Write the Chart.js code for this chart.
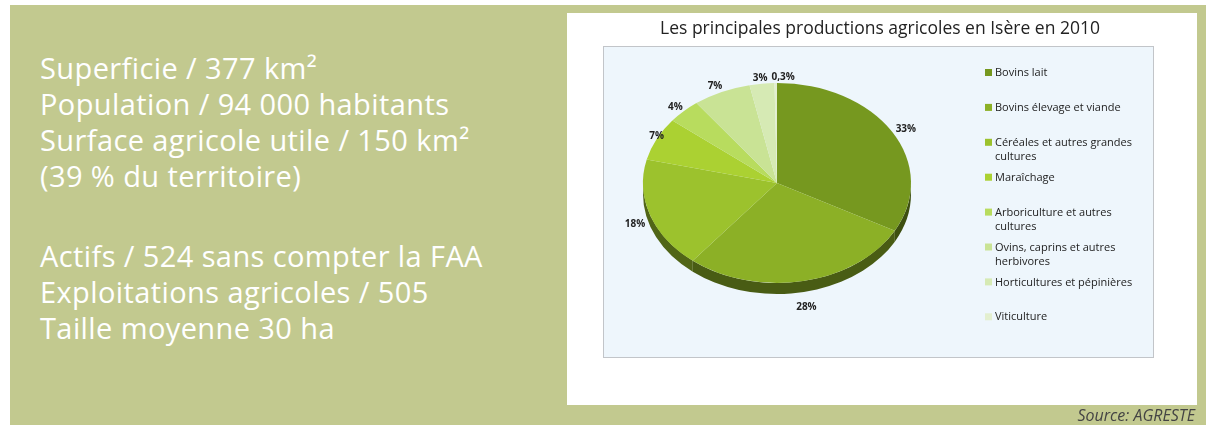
<!DOCTYPE html>
<html>
<head>
<meta charset="utf-8">
<title>Productions agricoles en Isère</title>
<script src="https://cdn.jsdelivr.net/npm/chart.js@4.4.0/dist/chart.umd.min.js"></script>
<style>
body{margin:0;background:#fff;width:1206px;height:425px;overflow:hidden;position:relative;font-family:"Open Sans",sans-serif}
#panel{position:absolute;left:10px;top:5px;width:1196px;height:420px;background:#c2c98f}
#facts{position:absolute;left:40px;top:50px;color:#fff;font-size:29px;line-height:36px;white-space:nowrap;letter-spacing:0.4px}
#facts p{margin:0 0 44px 0}
#box{position:absolute;left:567px;top:13px;width:630px;height:392px;background:#fff}
#source{position:absolute;right:11px;top:405px;font-style:italic;color:#444;font-size:16px;line-height:20px}
</style>
</head>
<body>
<div id="panel"></div>
<div id="facts">
<p>Superficie / 377 km²<br>Population / 94 000 habitants<br>Surface agricole utile / 150 km²<br>(39 % du territoire)</p>
<p>Actifs / 524 sans compter la FAA<br>Exploitations agricoles / 505<br>Taille moyenne 30 ha</p>
</div>
<div id="box"><canvas id="pieChart" width="630" height="392"></canvas></div>
<div id="source">Source: AGRESTE</div>

<script>
var chartTitle = "Les principales productions agricoles en Isère en 2010";
var categories = ["Bovins lait", "Bovins élevage et viande", "Céréales et autres grandes cultures", "Maraîchage",
	"Arboriculture et autres cultures", "Ovins, caprins et autres herbivores", "Horticultures et pépinières", "Viticulture"];
var shares = [33, 28, 18, 7, 4, 7, 3, 0.3];
var sliceColors = ["#76981f", "#8cb026", "#9cc22d", "#abd132", "#b8dc5e", "#c9e395", "#d6eab4", "#e3efcf"];

// pie is squashed into an ellipse to look like the 3D original
var squash = 100 / 134;
var depth = 11;

function darken(hex, f)
{
	var r = parseInt(hex.substr(1, 2), 16), g = parseInt(hex.substr(3, 2), 16), b = parseInt(hex.substr(5, 2), 16);
	return "rgb(" + Math.round(r * f) + "," + Math.round(g * f) + "," + Math.round(b * f) + ")";
}

var plotBackground = {
	id: 'plotBackground',
	beforeDraw: function(chart)
	{
		var ctx = chart.ctx;
		ctx.save();
		ctx.fillStyle = "#eef6fc";
		ctx.fillRect(36, 33, 550, 311);
		ctx.strokeStyle = "#c2c5c9";
		ctx.lineWidth = 1;
		ctx.strokeRect(36.5, 33.5, 550, 311);

		//title drawn by hand, the layout padding would squeeze the built-in one
		ctx.fillStyle = "#222";
		ctx.font = "17.5px 'Open Sans'";
		ctx.textAlign = "center";
		ctx.textBaseline = "middle";
		ctx.fillText(chartTitle, 313, 16);
		ctx.restore();
	}
};

var pieDepth = {
	id: 'pieDepth',
	beforeDatasetsDraw: function(chart)
	{
		var ctx = chart.ctx;
		var arcs = chart.getDatasetMeta(0).data;
		ctx.save();
		//draw the side of the pie (only the front half shows)
		for (var i = 0; i < arcs.length; i++)
		{
			var p = arcs[i].getProps(['x', 'y', 'startAngle', 'endAngle', 'outerRadius'], true);
			var a0 = Math.max(p.startAngle, 0);
			var a1 = Math.min(p.endAngle, Math.PI);
			if (a1 <= a0) continue;
			var rx = p.outerRadius, ry = p.outerRadius * squash;
			ctx.beginPath();
			ctx.ellipse(p.x, p.y, rx, ry, 0, a0, a1, false);
			ctx.ellipse(p.x, p.y + depth, rx, ry, 0, a1, a0, true);
			ctx.closePath();
			ctx.fillStyle = darken(sliceColors[i], 0.52);
			ctx.fill();
		}
		var c = arcs[0];
		ctx.translate(c.x, c.y);
		ctx.scale(1, squash);
		ctx.translate(-c.x, -c.y);
	},
	afterDatasetsDraw: function(chart)
	{
		var ctx = chart.ctx;
		ctx.restore();

		//percentage labels round the pie
		var arcs = chart.getDatasetMeta(0).data;
		ctx.save();
		ctx.font = "bold 10px 'Open Sans'";
		ctx.fillStyle = "#222";
		ctx.textAlign = "center";
		ctx.textBaseline = "middle";
		var lastRight = -1000;
		for (var i = 0; i < arcs.length; i++)
		{
			var p = arcs[i].getProps(['x', 'y', 'startAngle', 'endAngle', 'outerRadius'], true);
			var mid = (p.startAngle + p.endAngle) / 2;
			var cs = Math.cos(mid), sn = Math.sin(mid);
			var txt = String(shares[i]).replace('.', ',') + "%";
			var w = ctx.measureText(txt).width;
			var x = p.x + cs * (p.outerRadius + 16);
			var y = p.y + sn * (p.outerRadius * squash + (sn > 0 ? 16 + depth : 6));
			if (sn < 0 && cs < 0.3 && x - w / 2 < lastRight + 4) x = lastRight + 4 + w / 2;
			ctx.fillText(txt, x, y);
			lastRight = x + w / 2;
		}

		//legend on the right
		ctx.textAlign = "left";
		ctx.font = "11px 'Open Sans'";
		for (var i = 0; i < categories.length; i++)
		{
			var y = 60 + i * 34.9;
			ctx.fillStyle = sliceColors[i];
			ctx.fillRect(418, y - 4, 7, 7);
			ctx.fillStyle = "#222";
			var words = categories[i].split(" ");
			var line = "";
			for (var k = 0; k < words.length; k++)
			{
				var test = line == "" ? words[k] : line + " " + words[k];
				if (ctx.measureText(test).width > 155 && line != "")
				{
					ctx.fillText(line, 428, y);
					line = words[k];
					y += 14;
				}
				else
				{
					line = test;
				}
			}
			ctx.fillText(line, 428, y);
		}
		ctx.restore();
	}
};

var pieChart = new Chart(document.getElementById('pieChart').getContext('2d'), {
	type: 'pie',
	data: {
		labels: categories,
		datasets: [{
			data: shares,
			backgroundColor: sliceColors,
			borderWidth: 0
		}]
	},
	options: {
		responsive: false,
		animation: false,
		events: [],
		layout: { padding: { left: 76, right: 286, top: 33, bottom: 85 } },
		plugins: {
			legend: { display: false },
			tooltip: { enabled: false },
			title: { display: false }
		}
	},
	plugins: [plotBackground, pieDepth]
});
</script>
</body>
</html>
